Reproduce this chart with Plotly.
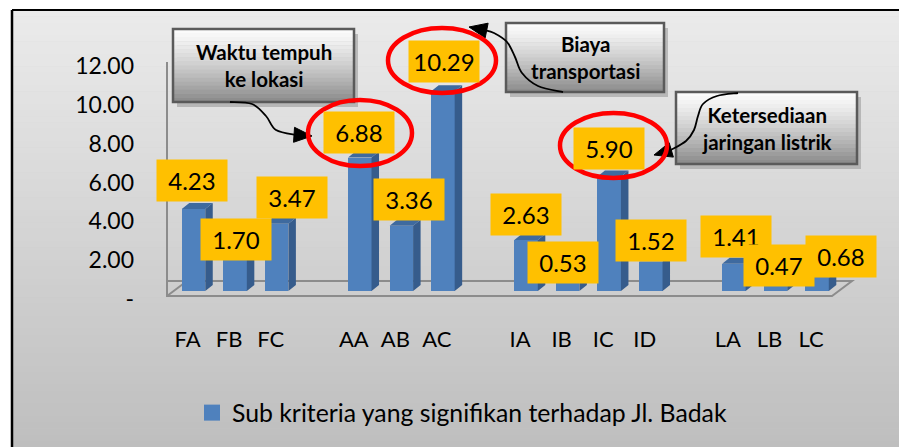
import plotly.graph_objects as go

# ---------------- data ----------------
categories = ["FA", "FB", "FC", "AA", "AB", "AC", "IA", "IB", "IC", "ID", "LA", "LB", "LC"]
slots = [0, 1, 2, 4, 5, 6, 8, 9, 10, 11, 13, 14, 15]          # category positions (gaps between groups)
values = [4.23, 1.70, 3.47, 6.88, 3.36, 10.29, 2.63, 0.53, 5.90, 1.52, 1.41, 0.47, 0.68]
y_tick_vals = [0, 2, 4, 6, 8, 10, 12]
y_tick_text = ["-", "2.00", "4.00", "6.00", "8.00", "10.00", "12.00"]
series_name = "Sub kriteria yang signifikan terhadap Jl. Badak"
callout_texts = ["Waktu tempuh<br>ke lokasi", "Biaya<br>transportasi", "Ketersediaan<br>jaringan listrik"]

# label nudges (pixels) for the data-label boxes (dx, dy)
label_nudge = [(-2, 28), (1, 19), (15, 26), (-1, 25), (8, 26), (1, 30), (0, 25),
               (-5, 18), (0, 28), (0, 21), (2, 27), (4, 16), (24, 21)]

# ---------------- geometry ----------------
W, H = 899, 447
X0_PX, SLOT_PX = 193.5, 41.57     # pixel of slot 0 and slot spacing
Y0_PX, UNIT_PX = 291.0, 19.4      # pixel of value 0 and pixels per unit
x_range = [-X0_PX / SLOT_PX, (W - X0_PX) / SLOT_PX]
y_range = [-(H - Y0_PX) / UNIT_PX, Y0_PX / UNIT_PX]
tick_shift = 8 / UNIT_PX          # y tick labels sit 8px lower (back wall)

FRONT = "#4F81BD"
SIDE = "#365C8C"
TOP = "#3E6A9F"
FONT = "Lato"

hw = 11.75 / SLOT_PX              # half width of bar front
ddx = 7.5 / SLOT_PX               # 3D depth offset x
ddy = 6.0 / UNIT_PX               # 3D depth offset y


def P(px, py):
    return px / W, 1 - py / H


fig = go.Figure()

# front faces
fig.add_trace(go.Bar(x=slots, y=values, width=2 * hw, marker=dict(color=FRONT, line=dict(width=0)),
                     showlegend=False, hoverinfo="skip"))

# side + top faces (3D look), computed from values
sx, sy, tx, ty = [], [], [], []
for s, v in zip(slots, values):
    r, l = s + hw, s - hw
    sx += [r, r + ddx, r + ddx, r, r, None]
    sy += [0, ddy, v + ddy, v, 0, None]
    tx += [l, l + ddx, r + ddx, r, l, None]
    ty += [v, v + ddy, v + ddy, v, v, None]
fig.add_trace(go.Scatter(x=sx, y=sy, mode="lines", fill="toself", fillcolor=SIDE,
                         line=dict(width=0, color=SIDE), showlegend=False, hoverinfo="skip"))
fig.add_trace(go.Scatter(x=tx, y=ty, mode="lines", fill="toself", fillcolor=TOP,
                         line=dict(width=0, color=TOP), showlegend=False, hoverinfo="skip"))

# legend entry
fig.add_trace(go.Scatter(x=[None], y=[None], mode="markers", name=series_name,
                         marker=dict(symbol="square", size=16, color=FRONT), hoverinfo="skip"))

# invisible trace for the tick-label axes
fig.add_trace(go.Scatter(x=[slots[0]], y=[0], xaxis="x2", yaxis="y2", mode="markers",
                         marker=dict(opacity=0), showlegend=False, hoverinfo="skip"))

shapes = []
# white margin strips (top and left, outside the chart border)
shapes.append(dict(type="rect", xref="paper", yref="paper", x0=0, x1=1, y0=P(0, 10)[1], y1=1,
                   fillcolor="white", line=dict(width=0), layer="below"))
shapes.append(dict(type="rect", xref="paper", yref="paper", x0=0, x1=P(12, 0)[0], y0=0, y1=1,
                   fillcolor="white", line=dict(width=0), layer="below"))
# background gradient
N = 70
top_y, bot_y = 10, H
for i in range(N):
    y0 = top_y + (bot_y - top_y) * i / N
    y1 = top_y + (bot_y - top_y) * (i + 1) / N + 0.5
    t = (i + 0.5) / N
    c = int(round(235 - 45 * t))
    x0p, y0p = P(12, y0)
    x1p, y1p = P(W, y1)
    shapes.append(dict(type="rect", xref="paper", yref="paper", x0=x0p, x1=x1p, y0=y1p, y1=y0p,
                       fillcolor=f"rgb({c},{c},{c})", line=dict(width=0), layer="below"))
# border
bx, by0 = P(12, 10)
shapes.append(dict(type="line", xref="paper", yref="paper", x0=bx, x1=bx, y0=0, y1=by0,
                   line=dict(color="black", width=2.5), layer="below"))
shapes.append(dict(type="line", xref="paper", yref="paper", x0=bx, x1=1, y0=by0, y1=by0,
                   line=dict(color="black", width=2), layer="below"))

# wall and floor lines
GRID = "#8C8C8C"


def pline(pts, width=2):
    path = "M" + " L".join(f"{P(a, b)[0]:.5f},{P(a, b)[1]:.5f}" for a, b in pts)
    return dict(type="path", xref="paper", yref="paper", path=path,
                line=dict(color=GRID, width=width), layer="below")


shapes.append(pline([(167, 62), (167, 296), (832, 296), (852, 281), (167, 281)]))
shapes.append(pline([(167, 296), (187, 281)]))


# callout boxes
def callout(x0, y0, x1, y1):
    out = []
    sx0, sy0 = P(x0 + 4, y0 + 5)
    sx1, sy1 = P(x1 + 4, y1 + 5)
    out.append(dict(type="rect", xref="paper", yref="paper", x0=sx0, x1=sx1, y0=sy1, y1=sy0,
                    fillcolor="rgba(150,150,150,0.55)", line=dict(width=0), layer="above"))
    n = 18
    for i in range(n):
        a = y0 + (y1 - y0) * i / n
        b = y0 + (y1 - y0) * (i + 1) / n + 0.4
        t = (i + 0.5) / n
        c = int(round(252 - 115 * t ** 1.3))
        p0 = P(x0, a)
        p1 = P(x1, b)
        out.append(dict(type="rect", xref="paper", yref="paper", x0=p0[0], x1=p1[0], y0=p1[1], y1=p0[1],
                        fillcolor=f"rgb({c},{c},{c})", line=dict(width=0), layer="above"))
    p0 = P(x0, y0)
    p1 = P(x1, y1)
    out.append(dict(type="rect", xref="paper", yref="paper", x0=p0[0], x1=p1[0], y0=p1[1], y1=p0[1],
                    fillcolor="rgba(0,0,0,0)", line=dict(color="#5A5A5A", width=2.5), layer="above"))
    return out


boxes = [(173, 29, 354, 102), (506, 23, 664, 92), (676, 92, 857, 164)]
for b in boxes:
    shapes += callout(*b)


# curved arrows
def curve(pts):
    pts2 = [pts[0]] + pts + [pts[-1]]
    d = f"M{P(*pts[0])[0]:.5f},{P(*pts[0])[1]:.5f}"
    for i in range(1, len(pts2) - 2):
        p0, p1, p2, p3 = pts2[i - 1], pts2[i], pts2[i + 1], pts2[i + 2]
        c1 = (p1[0] + (p2[0] - p0[0]) / 6, p1[1] + (p2[1] - p0[1]) / 6)
        c2 = (p2[0] - (p3[0] - p1[0]) / 6, p2[1] - (p3[1] - p1[1]) / 6)
        a, b, c = P(*c1), P(*c2), P(*p2)
        d += f" C{a[0]:.5f},{a[1]:.5f} {b[0]:.5f},{b[1]:.5f} {c[0]:.5f},{c[1]:.5f}"
    return dict(type="path", xref="paper", yref="paper", path=d,
                line=dict(color="black", width=1.8), layer="above")


def head(tip, frm, length=18, half=7.5):
    dx, dy = tip[0] - frm[0], tip[1] - frm[1]
    n = (dx * dx + dy * dy) ** 0.5
    ux, uy = dx / n, dy / n
    bx_, by_ = tip[0] - ux * length, tip[1] - uy * length
    a = (bx_ - uy * half, by_ + ux * half)
    b = (bx_ + uy * half, by_ - ux * half)
    pts = [P(*tip), P(*a), P(*b)]
    d = "M" + " L".join(f"{x:.5f},{y:.5f}" for x, y in pts) + " Z"
    return dict(type="path", xref="paper", yref="paper", path=d, fillcolor="black",
                line=dict(color="black", width=1), layer="above")


arrows = [
    ([(230, 102), (252, 104), (266, 116), (276, 130), (297, 135)], (312, 136), (297, 135)),
    ([(563, 92), (538, 86), (522, 73), (515, 57), (507, 42), (494, 33), (484, 30)], (469, 27), (484, 30)),
    ([(738, 93), (717, 96), (703, 104), (698, 116), (694, 130), (686, 141), (671, 150)], (654, 155), (671, 150)),
]
for pts, tip, frm in arrows:
    shapes.append(curve(pts))
    shapes.append(head(tip, frm))

# red ellipses
for x0, y0, x1, y1 in [(308, 100, 412, 166), (388, 28, 496, 93), (560, 113, 667, 178)]:
    p0, p1 = P(x0, y0), P(x1, y1)
    shapes.append(dict(type="circle", xref="paper", yref="paper", x0=p0[0], x1=p1[0], y0=p1[1], y1=p0[1],
                       line=dict(color="#FF0000", width=4.5), layer="above"))

annotations = []
# data labels
for s, v, (ndx, ndy) in zip(slots, values, label_nudge):
    annotations.append(dict(x=s, y=v, xref="x", yref="y", text=f"{v:.2f}", showarrow=False,
                            xshift=ndx, yshift=ndy, bgcolor="#FFC000", width=66, height=37, borderpad=2,
                            font=dict(family=FONT, size=24, color="black")))
# callout texts
for (x0, y0, x1, y1), txt in zip(boxes, callout_texts):
    cx, cy = P((x0 + x1) / 2, (y0 + y1) / 2)
    annotations.append(dict(x=cx, y=cy, xref="paper", yref="paper", text=f"<b>{txt}</b>", showarrow=False,
                            font=dict(family=FONT, size=20.5, color="black"), xanchor="center", yanchor="middle"))

fig.update_layout(
    width=W, height=H, margin=dict(l=0, r=0, t=0, b=0),
    paper_bgcolor="rgb(200,200,200)", plot_bgcolor="rgba(0,0,0,0)",
    shapes=shapes, annotations=annotations, bargap=0,
    xaxis=dict(range=x_range, domain=[0, 1], showgrid=False, zeroline=False, showticklabels=False,
               showline=False, fixedrange=True),
    yaxis=dict(range=y_range, domain=[0, 1], showgrid=False, zeroline=False, showticklabels=False,
               showline=False, fixedrange=True),
    xaxis2=dict(range=x_range, overlaying="x", anchor="free", position=1 - 324 / H,
                tickmode="array", tickvals=[s - 6 / SLOT_PX for s in slots], ticktext=categories,
                showgrid=False, zeroline=False, showline=False, ticks="",
                tickfont=dict(family=FONT, size=22, color="black"), fixedrange=True),
    yaxis2=dict(range=[y_range[0] + tick_shift, y_range[1] + tick_shift], overlaying="y", anchor="free",
                position=134 / W, tickmode="array", tickvals=y_tick_vals, ticktext=y_tick_text,
                showgrid=False, zeroline=False, showline=False, ticks="",
                tickfont=dict(family=FONT, size=23, color="black"), fixedrange=True),
    legend=dict(orientation="h", x=192 / W, y=1 - 413 / H, xanchor="left", yanchor="middle",
                font=dict(family=FONT, size=24.8, color="black"), bgcolor="rgba(0,0,0,0)"),
    showlegend=True,
)

fig.write_html(
    "out.html",
    config={"displayModeBar": False, "staticPlot": True},
    post_script=("document.documentElement.style.overflow='hidden';"
                 "document.body.style.margin='0';document.body.style.overflow='hidden';"),
)
